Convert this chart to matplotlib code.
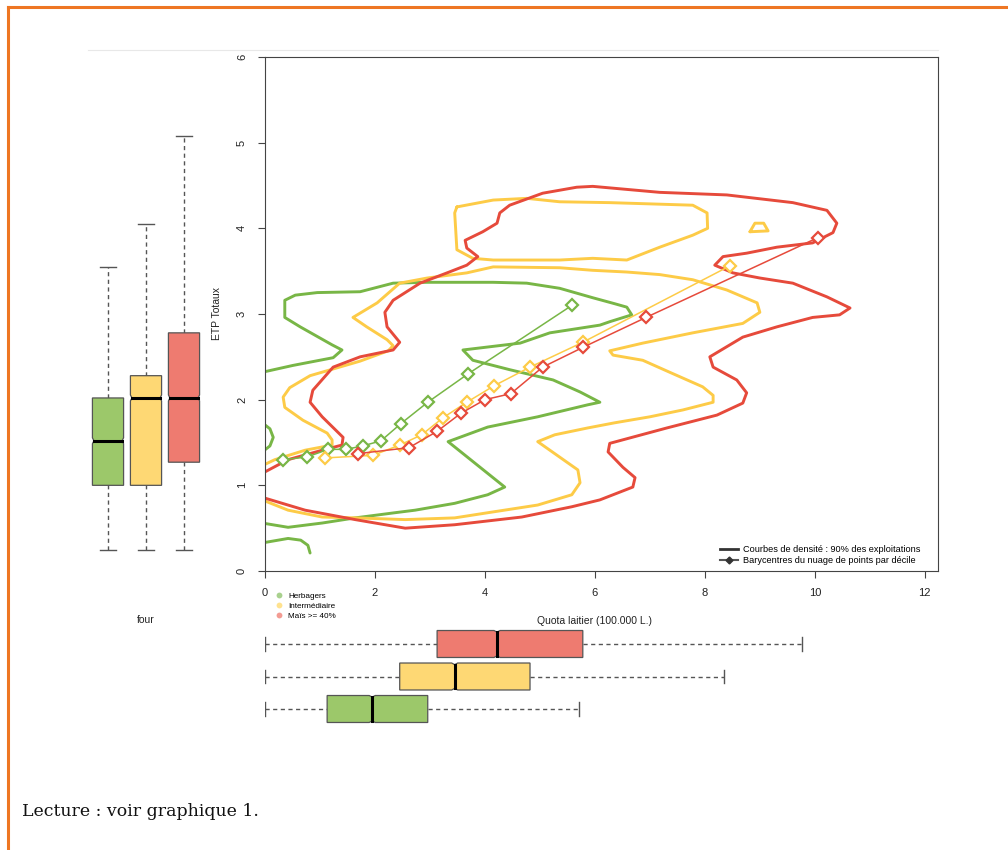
import matplotlib.pyplot as plt
from matplotlib.lines import Line2D
from matplotlib.patches import Polygon
import numpy as np

plt.rcParams['font.family'] = ['Liberation Sans', 'DejaVu Sans']

groupes = ["Herbagers", "Intermédiaire", "Maïs >= 40%"]
c_trait = ["#78B646", "#FDCB47", "#E64A3B"]
c_boite = ["#9CC86A", "#FED874", "#EE7B70"]
c_point = ["#A9D18E", "#FFE28F", "#F39C93"]

# barycentres du nuage de points par décile (quota, ETP)
herb_bx = [0.33, 0.76, 1.15, 1.47, 1.78, 2.11, 2.47, 2.96, 3.69, 5.58]
herb_by = [1.30, 1.33, 1.42, 1.42, 1.46, 1.52, 1.72, 1.97, 2.30, 3.10]
inter_bx = [1.09, 1.96, 2.45, 2.85, 3.24, 3.67, 4.16, 4.82, 5.78, 8.45]
inter_by = [1.32, 1.35, 1.47, 1.59, 1.79, 1.97, 2.16, 2.38, 2.67, 3.56]
mais_bx = [1.69, 2.62, 3.13, 3.56, 4.00, 4.47, 5.05, 5.78, 6.93, 10.05]
mais_by = [1.37, 1.44, 1.63, 1.84, 2.00, 2.07, 2.38, 2.61, 2.96, 3.89]

# courbes de densité 90%
herb_cx = [-0.05, 0.51, 1.24, 1.40, 1.22, 0.64, 0.36, 0.36, 0.55, 0.95, 1.73, 2.33, 2.95, 3.55, 4.15,
           4.76, 5.36, 5.96, 6.36, 6.58, 6.67, 6.27, 6.09, 5.18, 4.64, 3.60, 3.78, 4.45, 5.24, 5.73,
           6.09, 5.87, 4.96, 4.05, 3.33, 4.36, 4.05, 3.45, 2.73, 2.36, 1.64, 1.04, 0.42, -0.05]
herb_cy = [2.32, 2.40, 2.49, 2.58, 2.64, 2.85, 2.96, 3.16, 3.22, 3.25, 3.26, 3.36, 3.37, 3.37, 3.37,
           3.36, 3.30, 3.19, 3.12, 3.08, 2.99, 2.91, 2.87, 2.78, 2.66, 2.58, 2.46, 2.35, 2.23, 2.09,
           1.97, 1.94, 1.80, 1.68, 1.51, 0.98, 0.89, 0.79, 0.71, 0.68, 0.62, 0.56, 0.51, 0.56]
herb_c2x = [-0.03, 0.09, 0.15, 0.09, -0.03]
herb_c2y = [1.72, 1.66, 1.56, 1.46, 1.40]
herb_c3x = [-0.03, 0.42, 0.65, 0.78, 0.82]
herb_c3y = [0.33, 0.38, 0.36, 0.30, 0.21]

inter_cx = [-0.05, 0.18, 0.73, 1.22, 1.22, 1.13, 0.69, 0.36, 0.33, 0.45, 0.82, 1.73, 2.24, 2.33, 2.22,
            1.85, 1.60, 2.04, 2.45, 2.95, 3.67, 4.15, 5.36, 5.96, 6.58, 7.18, 7.78, 8.40, 8.95, 9.00,
            8.69, 7.78, 6.87, 6.27, 6.33, 6.87, 7.36, 7.96, 8.15, 8.15, 7.60, 7.00, 6.36, 5.87, 5.27,
            4.96, 5.69, 5.73, 5.58, 4.96, 4.05, 3.45, 2.55, 1.64, 1.04, 0.42, -0.05]
inter_cy = [1.23, 1.30, 1.41, 1.47, 1.53, 1.61, 1.76, 1.91, 2.03, 2.14, 2.28, 2.45, 2.57, 2.63, 2.70,
            2.85, 2.96, 3.13, 3.36, 3.42, 3.48, 3.55, 3.54, 3.51, 3.49, 3.46, 3.40, 3.28, 3.13, 3.02,
            2.89, 2.78, 2.66, 2.57, 2.52, 2.46, 2.32, 2.15, 2.05, 1.97, 1.88, 1.80, 1.73, 1.67, 1.59,
            1.51, 1.18, 1.03, 0.89, 0.77, 0.68, 0.62, 0.60, 0.62, 0.63, 0.71, 0.83]
inter_c2x = [3.49, 4.15, 4.76, 5.36, 6.27, 7.78, 8.04, 8.05, 7.78, 7.18, 6.58, 5.96, 5.36, 4.15, 3.78, 3.49, 3.45, 3.49]
inter_c2y = [4.25, 4.33, 4.35, 4.31, 4.30, 4.27, 4.18, 4.00, 3.92, 3.78, 3.63, 3.65, 3.63, 3.63, 3.65, 3.75, 4.18, 4.25]
inter_c3x = [8.82, 8.91, 9.07, 9.15, 8.82]
inter_c3y = [3.96, 4.06, 4.06, 3.97, 3.96]

mais_cx = [-0.05, 0.42, 1.04, 1.40, 1.42, 1.04, 0.82, 0.87, 1.24, 1.73, 2.33, 2.45, 2.22, 2.18, 2.33,
           2.82, 3.31, 3.67, 3.87, 3.67, 3.64, 3.96, 4.22, 4.27, 4.45, 5.05, 5.67, 5.96, 7.18, 8.40,
           9.60, 10.22, 10.40, 10.33, 9.96, 9.31, 8.76, 8.33, 8.18, 8.51, 9.00, 9.60, 10.22, 10.64, 10.45,
           9.96, 9.31, 8.69, 8.09, 8.15, 8.58, 8.76, 8.69, 8.22, 7.31, 6.27, 6.24, 6.51, 6.73, 6.69,
           6.09, 5.58, 4.67, 3.45, 2.55, 1.64, 0.73, -0.05]
mais_cy = [1.14, 1.30, 1.41, 1.47, 1.56, 1.80, 1.97, 2.11, 2.38, 2.50, 2.58, 2.67, 2.85, 3.02, 3.16,
           3.36, 3.48, 3.57, 3.67, 3.77, 3.86, 3.96, 4.06, 4.18, 4.27, 4.41, 4.48, 4.49, 4.42, 4.39,
           4.30, 4.21, 4.06, 3.95, 3.83, 3.78, 3.71, 3.67, 3.57, 3.48, 3.42, 3.36, 3.20, 3.07, 2.99,
           2.96, 2.85, 2.73, 2.50, 2.38, 2.23, 2.08, 1.96, 1.82, 1.67, 1.49, 1.39, 1.21, 1.09, 0.98,
           0.83, 0.75, 0.63, 0.54, 0.50, 0.60, 0.71, 0.86]

# boîtes à moustaches : [min, q1, médiane, q3, max]
etp_herb = [0.25, 1.00, 1.52, 2.02, 3.55]
etp_inter = [0.25, 1.00, 2.02, 2.28, 4.05]
etp_mais = [0.25, 1.27, 2.02, 2.78, 5.08]
quota_herb = [0.0, 1.13, 1.95, 2.96, 5.71]
quota_inter = [0.0, 2.45, 3.45, 4.82, 8.35]
quota_mais = [0.0, 3.13, 4.22, 5.78, 9.76]

W, H = 1008, 850


def rect(l, t, r, b):
    return [l / W, 1 - b / H, (r - l) / W, (b - t) / H]


def boite(ax, pos, st, col, vertical=True, hw=0.41, nd=0.035, ni=0.04):
    lo, q1, med, q3, hi = st
    pts = [(pos - hw, q1), (pos + hw, q1), (pos + hw, med - nd), (pos + hw - ni, med),
           (pos + hw, med + nd), (pos + hw, q3), (pos - hw, q3), (pos - hw, med + nd),
           (pos - hw + ni, med), (pos - hw, med - nd)]
    if not vertical:
        pts = [(b, a) for a, b in pts]
    ax.add_patch(Polygon(pts, closed=True, fc=col, ec="#555555", lw=0.9, zorder=2))
    sw = hw * 0.5
    for a, b in [(lo, q1), (q3, hi)]:
        if vertical:
            ax.plot([pos, pos], [a, b], color="#555555", lw=1, ls=(0, (3, 2.5)), zorder=1)
        else:
            ax.plot([a, b], [pos, pos], color="#555555", lw=1, ls=(0, (3, 2.5)), zorder=1)
    for v in [lo, hi]:
        if vertical:
            ax.plot([pos - sw, pos + sw], [v, v], color="#555555", lw=1)
        else:
            ax.plot([v, v], [pos - sw, pos + sw], color="#555555", lw=1)
    if vertical:
        ax.plot([pos - hw + ni, pos + hw - ni], [med, med], color="black", lw=2.2, zorder=3)
    else:
        ax.plot([med, med], [pos - hw + ni, pos + hw - ni], color="black", lw=2.2, zorder=3)


fig = plt.figure(figsize=(10.08, 8.5), dpi=100)

# cadre orange et filet gris
fig.add_artist(Line2D([8 / W, 1], [1 - 7 / H, 1 - 7 / H], color="#EE7623", lw=2.2))
fig.add_artist(Line2D([8 / W, 8 / W], [0, 1 - 7 / H], color="#EE7623", lw=2.2))
fig.add_artist(Line2D([88 / W, 938 / W], [1 - 50 / H, 1 - 50 / H], color="#E8E8E8", lw=0.8))

# graphique principal
ax = fig.add_axes(rect(265, 57, 938, 571))
contours = [
    (herb_cx, herb_cy, 0), (herb_c2x, herb_c2y, 0), (herb_c3x, herb_c3y, 0),
    (inter_cx, inter_cy, 1), (inter_c2x, inter_c2y, 1), (inter_c3x, inter_c3y, 1),
    (mais_cx, mais_cy, 2),
]
for cx, cy, g in contours:
    ax.plot(cx, cy, color=c_trait[g], lw=2.1, solid_joinstyle="round", solid_capstyle="round")

for bx, by, g in [(herb_bx, herb_by, 0), (inter_bx, inter_by, 1), (mais_bx, mais_by, 2)]:
    ax.plot(bx, by, color=c_trait[g], lw=1.1, marker="D", ms=6.5, mfc="white",
            mec=c_trait[g], mew=1.6)

ax.set_xlim(0, 12.24)
ax.set_ylim(0, 6)
ax.set_xticks(range(0, 13, 2))
ax.set_yticks(range(0, 7))
for s in ax.spines.values():
    s.set_color("#444444")
    s.set_linewidth(0.8)
ax.tick_params(axis="both", direction="out", length=5, width=0.8, color="#444444",
               labelsize=8, labelcolor="#222222")
ax.tick_params(axis="x", pad=7)
ax.tick_params(axis="y", pad=8, labelrotation=90)
for t in ax.get_yticklabels():
    t.set_va("center")
ax.set_xlabel("Quota laitier (100.000 L.)", fontsize=7.5, color="#222222")
ax.xaxis.set_label_coords(0.49, -0.087)
ax.set_ylabel("ETP Totaux", fontsize=7.5, color="#222222")
ax.yaxis.set_label_coords(-0.064, 0.5)

h_leg = [Line2D([], [], color="#333333", lw=2),
         Line2D([], [], color="#555555", lw=1.5, marker="D", ms=3.5, mfc="#333333", mec="#333333")]
ax.legend(h_leg, ["Courbes de densité : 90% des exploitations",
                  "Barycentres du nuage de points par décile"],
          loc="lower right", bbox_to_anchor=(0.98, 0.005), frameon=False, fontsize=6.6,
          handlelength=2.0, handletextpad=0.6, labelspacing=0.2, borderaxespad=0)

# légende des groupes
h_grp = [Line2D([], [], ls="none", marker="o", ms=4.2, mfc=c_point[i], mec="none") for i in range(3)]
fig.legend(h_grp, groupes, loc="upper left", bbox_to_anchor=(276 / W, 1 - 592 / H),
           frameon=False, fontsize=5.9, handlelength=0.8, handletextpad=0.7,
           labelspacing=0.3, borderaxespad=0, borderpad=0)

# boîtes ETP (verticales)
axl = fig.add_axes(rect(85.2, 57, 206.8, 571))
for i, st in enumerate([etp_herb, etp_inter, etp_mais]):
    boite(axl, i + 1, st, c_boite[i], vertical=True)
axl.set_xlim(0.4, 3.6)
axl.set_ylim(0, 6)
axl.axis("off")
fig.text(146 / W, 1 - 620 / H, "four", fontsize=7.5, color="#222222", ha="center", va="center")

# boîtes quota (horizontales)
axb = fig.add_axes(rect(265, 624.5, 938, 728.5))
for i, st in enumerate([quota_herb, quota_inter, quota_mais]):
    boite(axb, i + 1, st, c_boite[i], vertical=False, hw=0.415, nd=0.055, ni=0.05)
axb.set_xlim(0, 12.24)
axb.set_ylim(0.4, 3.6)
axb.axis("off")

fig.text(22 / W, 1 - 811 / H, "Lecture : voir graphique 1.", fontsize=12.5,
         family="DejaVu Serif", color="#111111", va="center")

fig.savefig("out.png", dpi=100)
